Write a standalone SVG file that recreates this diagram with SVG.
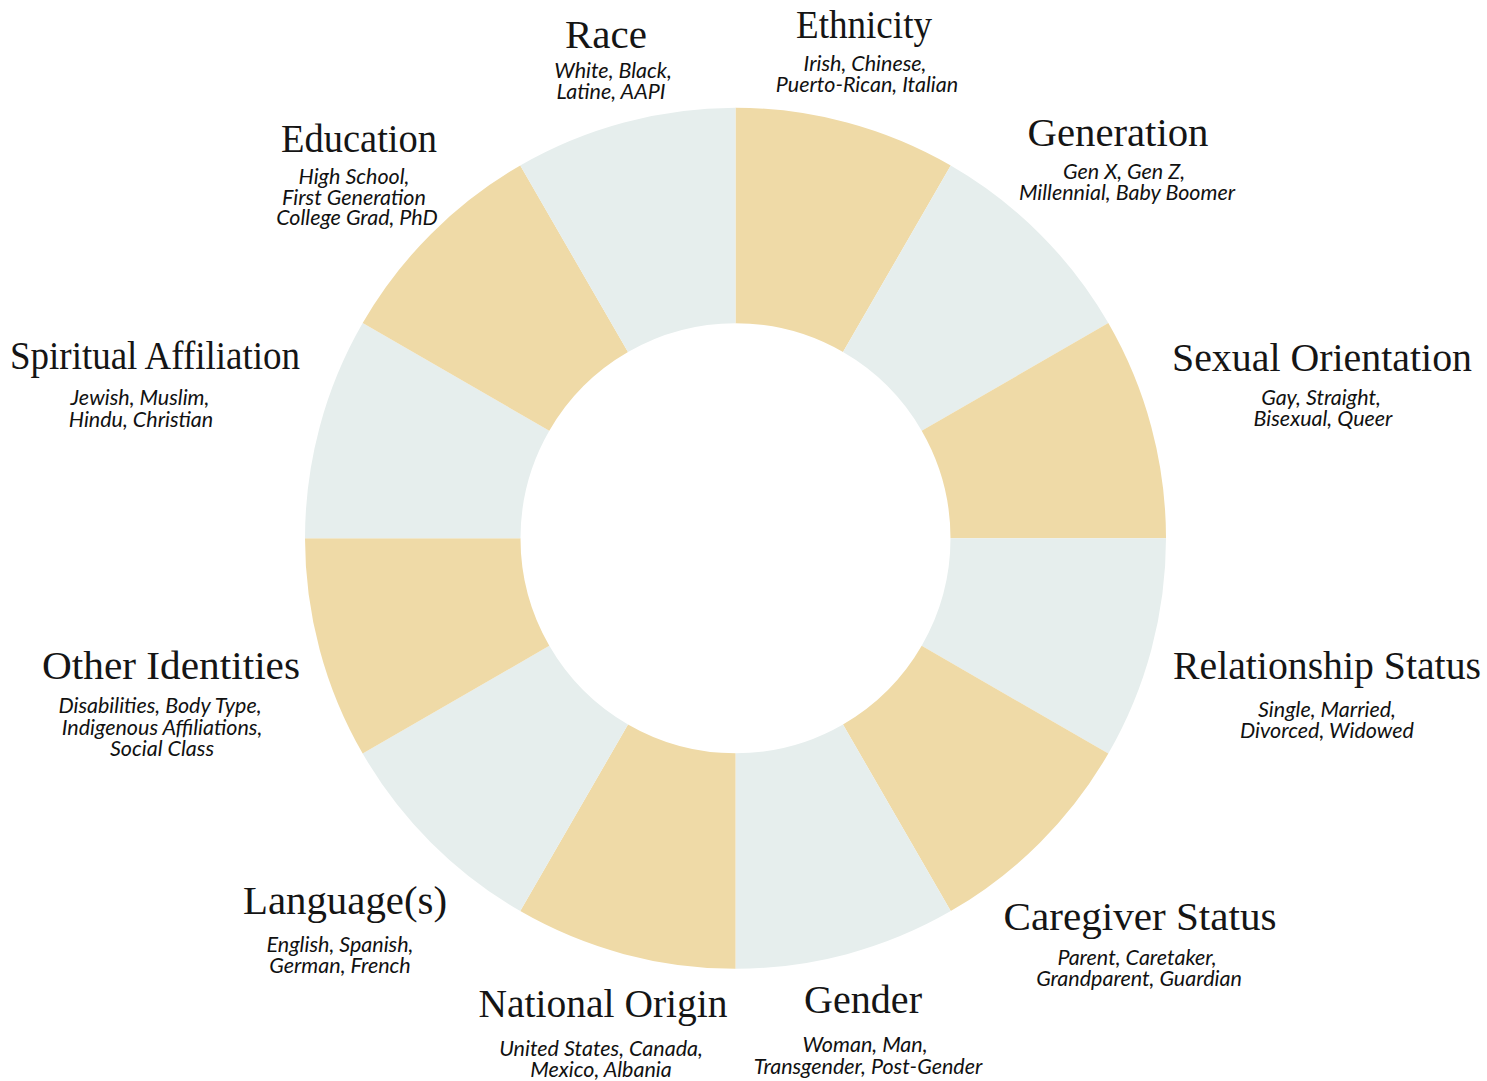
<svg xmlns="http://www.w3.org/2000/svg" width="1487" height="1081" viewBox="0 0 1487 1081">
<style>
.y{fill:#EFDAA7}
.l{fill:#E6EEED}
.t{font-family:"Liberation Serif","Times New Roman",serif;font-size:40px;fill:#151515;text-anchor:middle}
.s{font-family:Lato,"Liberation Sans",sans-serif;font-style:italic;font-size:21.5px;fill:#111;text-anchor:middle}
</style>
<rect width="1487" height="1081" fill="#fff"/>
<g id="ring">
<path class="y" d="M735.5,107.8 A430.5,430.5 0 0 1 950.75,165.48 L843,352.11 A215,215 0 0 0 735.5,323.3 Z"/>
<path class="l" d="M950.75,165.48 A430.5,430.5 0 0 1 1108.32,323.05 L921.69,430.8 A215,215 0 0 0 843,352.11 Z"/>
<path class="y" d="M1108.32,323.05 A430.5,430.5 0 0 1 1166,538.3 L950.5,538.3 A215,215 0 0 0 921.69,430.8 Z"/>
<path class="l" d="M1166,538.3 A430.5,430.5 0 0 1 1108.32,753.55 L921.69,645.8 A215,215 0 0 0 950.5,538.3 Z"/>
<path class="y" d="M1108.32,753.55 A430.5,430.5 0 0 1 950.75,911.12 L843,724.49 A215,215 0 0 0 921.69,645.8 Z"/>
<path class="l" d="M950.75,911.12 A430.5,430.5 0 0 1 735.5,968.8 L735.5,753.3 A215,215 0 0 0 843,724.49 Z"/>
<path class="y" d="M735.5,968.8 A430.5,430.5 0 0 1 520.25,911.12 L628,724.49 A215,215 0 0 0 735.5,753.3 Z"/>
<path class="l" d="M520.25,911.12 A430.5,430.5 0 0 1 362.68,753.55 L549.31,645.8 A215,215 0 0 0 628,724.49 Z"/>
<path class="y" d="M362.68,753.55 A430.5,430.5 0 0 1 305,538.3 L520.5,538.3 A215,215 0 0 0 549.31,645.8 Z"/>
<path class="l" d="M305,538.3 A430.5,430.5 0 0 1 362.68,323.05 L549.31,430.8 A215,215 0 0 0 520.5,538.3 Z"/>
<path class="y" d="M362.68,323.05 A430.5,430.5 0 0 1 520.25,165.48 L628,352.11 A215,215 0 0 0 549.31,430.8 Z"/>
<path class="l" d="M520.25,165.48 A430.5,430.5 0 0 1 735.5,107.8 L735.5,323.3 A215,215 0 0 0 628,352.11 Z"/>
</g>
<g id="race">
<text class="t" x="606" y="48" textLength="82" lengthAdjust="spacingAndGlyphs">Race</text>
<text class="s" x="613" y="78">White, Black,</text>
<text class="s" x="611" y="99">Latine, AAPI</text>
</g>
<g id="ethnicity">
<text class="t" x="864" y="38" textLength="136" lengthAdjust="spacingAndGlyphs">Ethnicity</text>
<text class="s" x="865" y="71">Irish, Chinese,</text>
<text class="s" x="867" y="92">Puerto-Rican, Italian</text>
</g>
<g id="generation">
<text class="t" x="1118" y="146" textLength="181" lengthAdjust="spacingAndGlyphs">Generation</text>
<text class="s" x="1124" y="179">Gen X, Gen Z,</text>
<text class="s" x="1127" y="200">Millennial, Baby Boomer</text>
</g>
<g id="sexual-orientation">
<text class="t" x="1322" y="371" textLength="300" lengthAdjust="spacingAndGlyphs">Sexual Orientation</text>
<text class="s" x="1321" y="405">Gay, Straight,</text>
<text class="s" x="1323" y="426">Bisexual, Queer</text>
</g>
<g id="relationship-status">
<text class="t" x="1327" y="679" textLength="308" lengthAdjust="spacingAndGlyphs">Relationship Status</text>
<text class="s" x="1327" y="717">Single, Married,</text>
<text class="s" x="1327" y="738">Divorced, Widowed</text>
</g>
<g id="caregiver-status">
<text class="t" x="1140" y="930" textLength="273" lengthAdjust="spacingAndGlyphs">Caregiver Status</text>
<text class="s" x="1137" y="965">Parent, Caretaker,</text>
<text class="s" x="1139" y="986">Grandparent, Guardian</text>
</g>
<g id="gender">
<text class="t" x="863" y="1013" textLength="118" lengthAdjust="spacingAndGlyphs">Gender</text>
<text class="s" x="865" y="1052">Woman, Man,</text>
<text class="s" x="868" y="1074">Transgender, Post-Gender</text>
</g>
<g id="national-origin">
<text class="t" x="603" y="1017" textLength="249" lengthAdjust="spacingAndGlyphs">National Origin</text>
<text class="s" x="601" y="1056">United States, Canada,</text>
<text class="s" x="601" y="1077">Mexico, Albania</text>
</g>
<g id="languages">
<text class="t" x="345" y="914" textLength="204" lengthAdjust="spacingAndGlyphs">Language(s)</text>
<text class="s" x="340" y="952">English, Spanish,</text>
<text class="s" x="340" y="973">German, French</text>
</g>
<g id="other-identities">
<text class="t" x="171" y="679" textLength="258" lengthAdjust="spacingAndGlyphs">Other Identities</text>
<text class="s" x="160" y="713">Disabilities, Body Type,</text>
<text class="s" x="162" y="735">Indigenous Affiliations,</text>
<text class="s" x="162" y="756">Social Class</text>
</g>
<g id="spiritual-affiliation">
<text class="t" x="155" y="369" textLength="290" lengthAdjust="spacingAndGlyphs">Spiritual Affiliation</text>
<text class="s" x="140" y="405">Jewish, Muslim,</text>
<text class="s" x="141" y="427">Hindu, Christian</text>
</g>
<g id="education">
<text class="t" x="359" y="152" textLength="156" lengthAdjust="spacingAndGlyphs">Education</text>
<text class="s" x="354" y="184">High School,</text>
<text class="s" x="354" y="205">First Generation</text>
<text class="s" x="357" y="225">College Grad, PhD</text>
</g>
<g id="connectors"></g>
</svg>
